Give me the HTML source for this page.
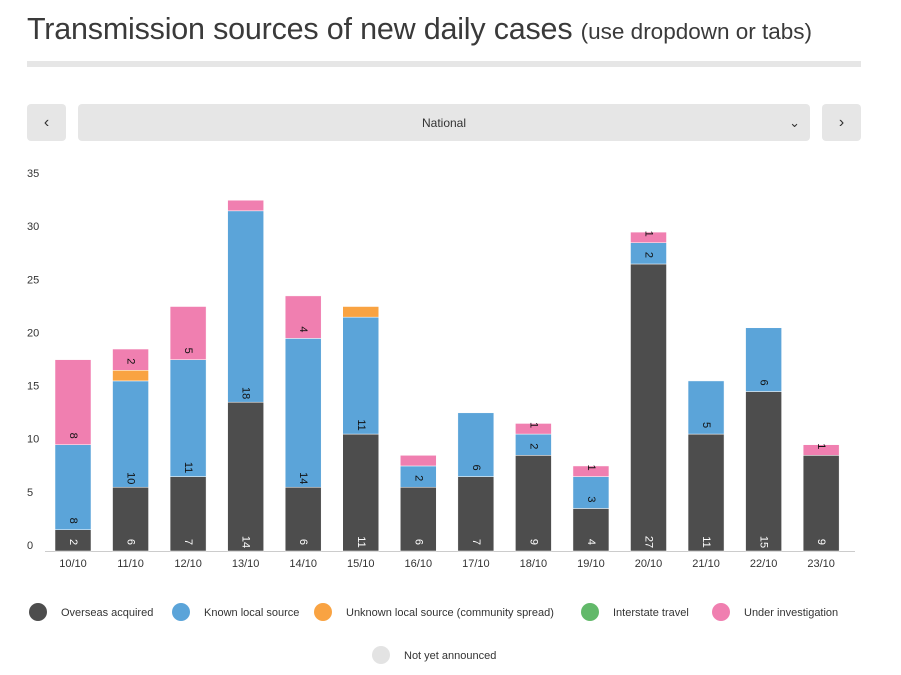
<!DOCTYPE html>
<html><head><meta charset="utf-8">
<style>
body{margin:0;width:901px;height:675px;background:#fff;font-family:"Liberation Sans","DejaVu Sans",sans-serif;position:relative;overflow:hidden}
.t{position:absolute;left:27px;top:12px;font-size:30.5px;color:#3a3a3a;white-space:nowrap;letter-spacing:-0.2px}
.t small{font-size:22.5px;letter-spacing:0}
.rule{position:absolute;left:27px;top:61px;width:834px;height:6px;background:#e6e6e6}
.btn{position:absolute;top:104px;height:37px;background:#e6e6e6;border-radius:4px;color:#333;font-size:12px;display:flex;align-items:center;justify-content:center}
</style></head><body>
<div class="t">Transmission sources of new daily cases <small>(use dropdown or tabs)</small></div>
<div class="rule"></div>
<div class="btn" style="left:27px;width:39px;font-size:16px">‹</div>
<div class="btn" style="left:78px;width:732px">National<span style="position:absolute;right:10px;font-size:13px">⌄</span></div>
<div class="btn" style="left:822px;width:39px;font-size:16px">›</div>
<svg id="c" width="901" height="675" style="position:absolute;left:0;top:0"></svg>
<script>
const categories=["10/10","11/10","12/10","13/10","14/10","15/10","16/10","17/10","18/10","19/10","20/10","21/10","22/10","23/10"];
const overseas=[2,6,7,14,6,11,6,7,9,4,27,11,15,9];
const knownLocal=[8,10,11,18,14,11,2,6,2,3,2,5,6,0];
const unknownLocal=[0,1,0,0,0,1,0,0,0,0,0,0,0,0];
const interstate=[0,0,0,0,0,0,0,0,0,0,0,0,0,0];
const investigation=[8,2,5,1,4,0,1,0,1,1,1,0,0,1];
const notYet=[0,0,0,0,0,0,0,0,0,0,0,0,0,0];
const yTicks=[0,5,10,15,20,25,30,35];
const seriesNames=["Overseas acquired","Known local source","Unknown local source (community spread)","Interstate travel","Under investigation","Not yet announced"];
const colors=["#4d4d4d","#5ba4d9","#f9a342","#62b96a","#f07fb0","#e3e3e3"];
const series=[overseas,knownLocal,unknownLocal,interstate,investigation,notYet];
const NS="http://www.w3.org/2000/svg",svg=document.getElementById('c');
const y0=551,pxPer=10.63,x0=73,step=57.55,bw=36;
const Y=v=>y0-v*pxPer, X=i=>x0+i*step;
function mk(t,a){const e=document.createElementNS(NS,t);for(const k in a)e.setAttribute(k,a[k]);svg.appendChild(e);return e;}
yTicks.forEach(v=>{const t=mk('text',{x:27,y:Y(v)-2,'font-size':11,fill:'#333'});t.textContent=v;

});
const ax=mk('line',{x1:45,x2:855,y1:y0+0.5,y2:y0+0.5,stroke:'#ccc'});


categories.forEach((c,i)=>{
 const t=mk('text',{x:X(i),y:567,'font-size':11,fill:'#333','text-anchor':'middle'});t.textContent=c;
 
 
 let cum=0;
 series.forEach((s,k)=>{const v=s[i];if(!v)return;
  const r=mk('rect',{x:X(i)-bw/2,y:Y(cum+v),width:bw,height:v*pxPer,fill:colors[k],stroke:'#fff','stroke-width':0.5});
  
  
  if(v*pxPer>=10.5 && !(k===4&&v===1&&(i===3||i===6)) && k!==2){
   const ly=Y(cum)-9;
   const l=mk('text',{x:X(i),y:ly,'font-size':11,fill:k===0?'#fff':'#111','text-anchor':'middle','dominant-baseline':'central',transform:`rotate(90 ${X(i)} ${ly})`});
   l.textContent=v;
   
   
  }
  cum+=v;});
});
const lx=[38,181,323,590,721,381],ly=[612,612,612,612,612,655];
seriesNames.forEach((n,k)=>{
 const c=mk('circle',{cx:lx[k],cy:ly[k],r:9,fill:colors[k]});
 
 
 const t=mk('text',{x:lx[k]+23,y:ly[k]+4,'font-size':11,fill:'#333'});t.textContent=n;
 
 
});
</script>
</body></html>
